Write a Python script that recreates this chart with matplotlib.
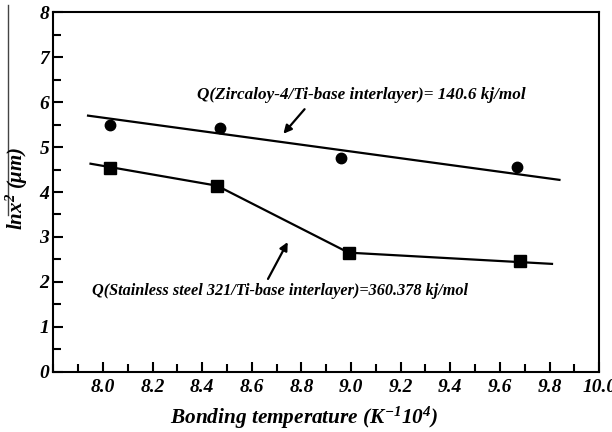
import matplotlib
matplotlib.use("Agg")
import matplotlib.pyplot as plt
from matplotlib.lines import Line2D
from matplotlib.ticker import MultipleLocator

# data
zr_x = [8.03, 8.47, 8.96, 9.67]
zr_y = [5.49, 5.42, 4.75, 4.55]
zr_fit_x = [7.94, 9.84]
zr_fit_y = [5.70, 4.27]

ss_x = [8.03, 8.46, 8.99, 9.68]
ss_y = [4.53, 4.14, 2.65, 2.46]
ss_line_x = [7.95, 8.46, 8.99, 9.81]
ss_line_y = [4.63, 4.14, 2.65, 2.40]

x_ticks = [8.0, 8.2, 8.4, 8.6, 8.8, 9.0, 9.2, 9.4, 9.6, 9.8, 10.0]
y_ticks = [0, 1, 2, 3, 4, 5, 6, 7, 8]

zr_label = 'Q(Zircaloy-4/Ti-base interlayer)= 140.6 kj/mol'
ss_label = 'Q(Stainless steel 321/Ti-base interlayer)=360.378 kj/mol'

plt.rcParams['font.family'] = 'Liberation Serif'
plt.rcParams['mathtext.fontset'] = 'custom'
plt.rcParams['mathtext.rm'] = 'Liberation Serif:bold:italic'
plt.rcParams['mathtext.it'] = 'Liberation Serif:bold:italic'
plt.rcParams['mathtext.bf'] = 'Liberation Serif:bold:italic'

W, H = 612, 432
fig = plt.figure(figsize=(6.12, 4.32), dpi=100)
ax = fig.add_axes([0.0871, 0.1396, 0.979 - 0.0871, 0.9715 - 0.1396])

ax.plot(zr_fit_x, zr_fit_y, color='black', lw=1.6)
ax.plot(zr_x, zr_y, 'o', color='black', ms=7.5)
ax.plot(ss_line_x, ss_line_y, color='black', lw=1.6)
ax.plot(ss_x, ss_y, 's', color='black', ms=8.5)

ax.set_xlim(7.8, 10.0)
ax.set_ylim(0, 8)
ax.set_xticks(x_ticks)
ax.set_yticks(y_ticks)
ax.set_xticklabels([f'{v:.1f}' for v in x_ticks])
ax.set_yticklabels([str(v) for v in y_ticks])
ax.xaxis.set_minor_locator(MultipleLocator(0.1))
ax.yaxis.set_minor_locator(MultipleLocator(0.5))
ax.tick_params(which='both', direction='in', top=False, right=False, width=1.5)
ax.tick_params(which='major', length=7.2)
ax.tick_params(which='minor', length=5.5)
ax.tick_params(axis='x', which='major', pad=5)
ax.tick_params(axis='y', which='major', pad=3)
for lbl in ax.get_xticklabels() + ax.get_yticklabels():
    lbl.set_fontsize(14)
    lbl.set_fontweight('bold')
    lbl.set_fontstyle('italic')
for sp in ax.spines.values():
    sp.set_linewidth(1.5)

# axis titles placed in figure pixels as in the reference
fig.text(304 / W, 1 - 418 / H, r'Bonding temperature (K$^{-1}$10$^{4}$)',
         ha='center', va='center', fontsize=15.3, fontweight='bold',
         fontstyle='italic')
fig.text(17 / W, 1 - 188 / H, r'lnx$^{2}$ ($\mu$m)', rotation=90,
         ha='center', va='center', fontsize=15, fontweight='bold',
         fontstyle='italic')
# long overbar line of the original y title
fig.add_artist(Line2D([8.3 / W, 8.3 / W], [1 - 5 / H, 1 - 215 / H],
                      color='#444444', lw=1.0))

ann = dict(fontweight='bold', fontstyle='italic', ha='left', va='center')
ax.text(8.378, 6.16, zr_label, fontsize=12.3, **ann)
ax.text(7.955, 1.79, ss_label, fontsize=11.7, **ann)
ax.annotate('', xy=(8.72, 5.25), xytext=(8.82, 5.89),
            arrowprops=dict(arrowstyle='-|>', color='black', lw=1.6,
                            mutation_scale=12))
ax.annotate('', xy=(8.75, 2.94), xytext=(8.66, 2.01),
            arrowprops=dict(arrowstyle='-|>', color='black', lw=1.6,
                            mutation_scale=12))

fig.savefig('out.png', dpi=100)
